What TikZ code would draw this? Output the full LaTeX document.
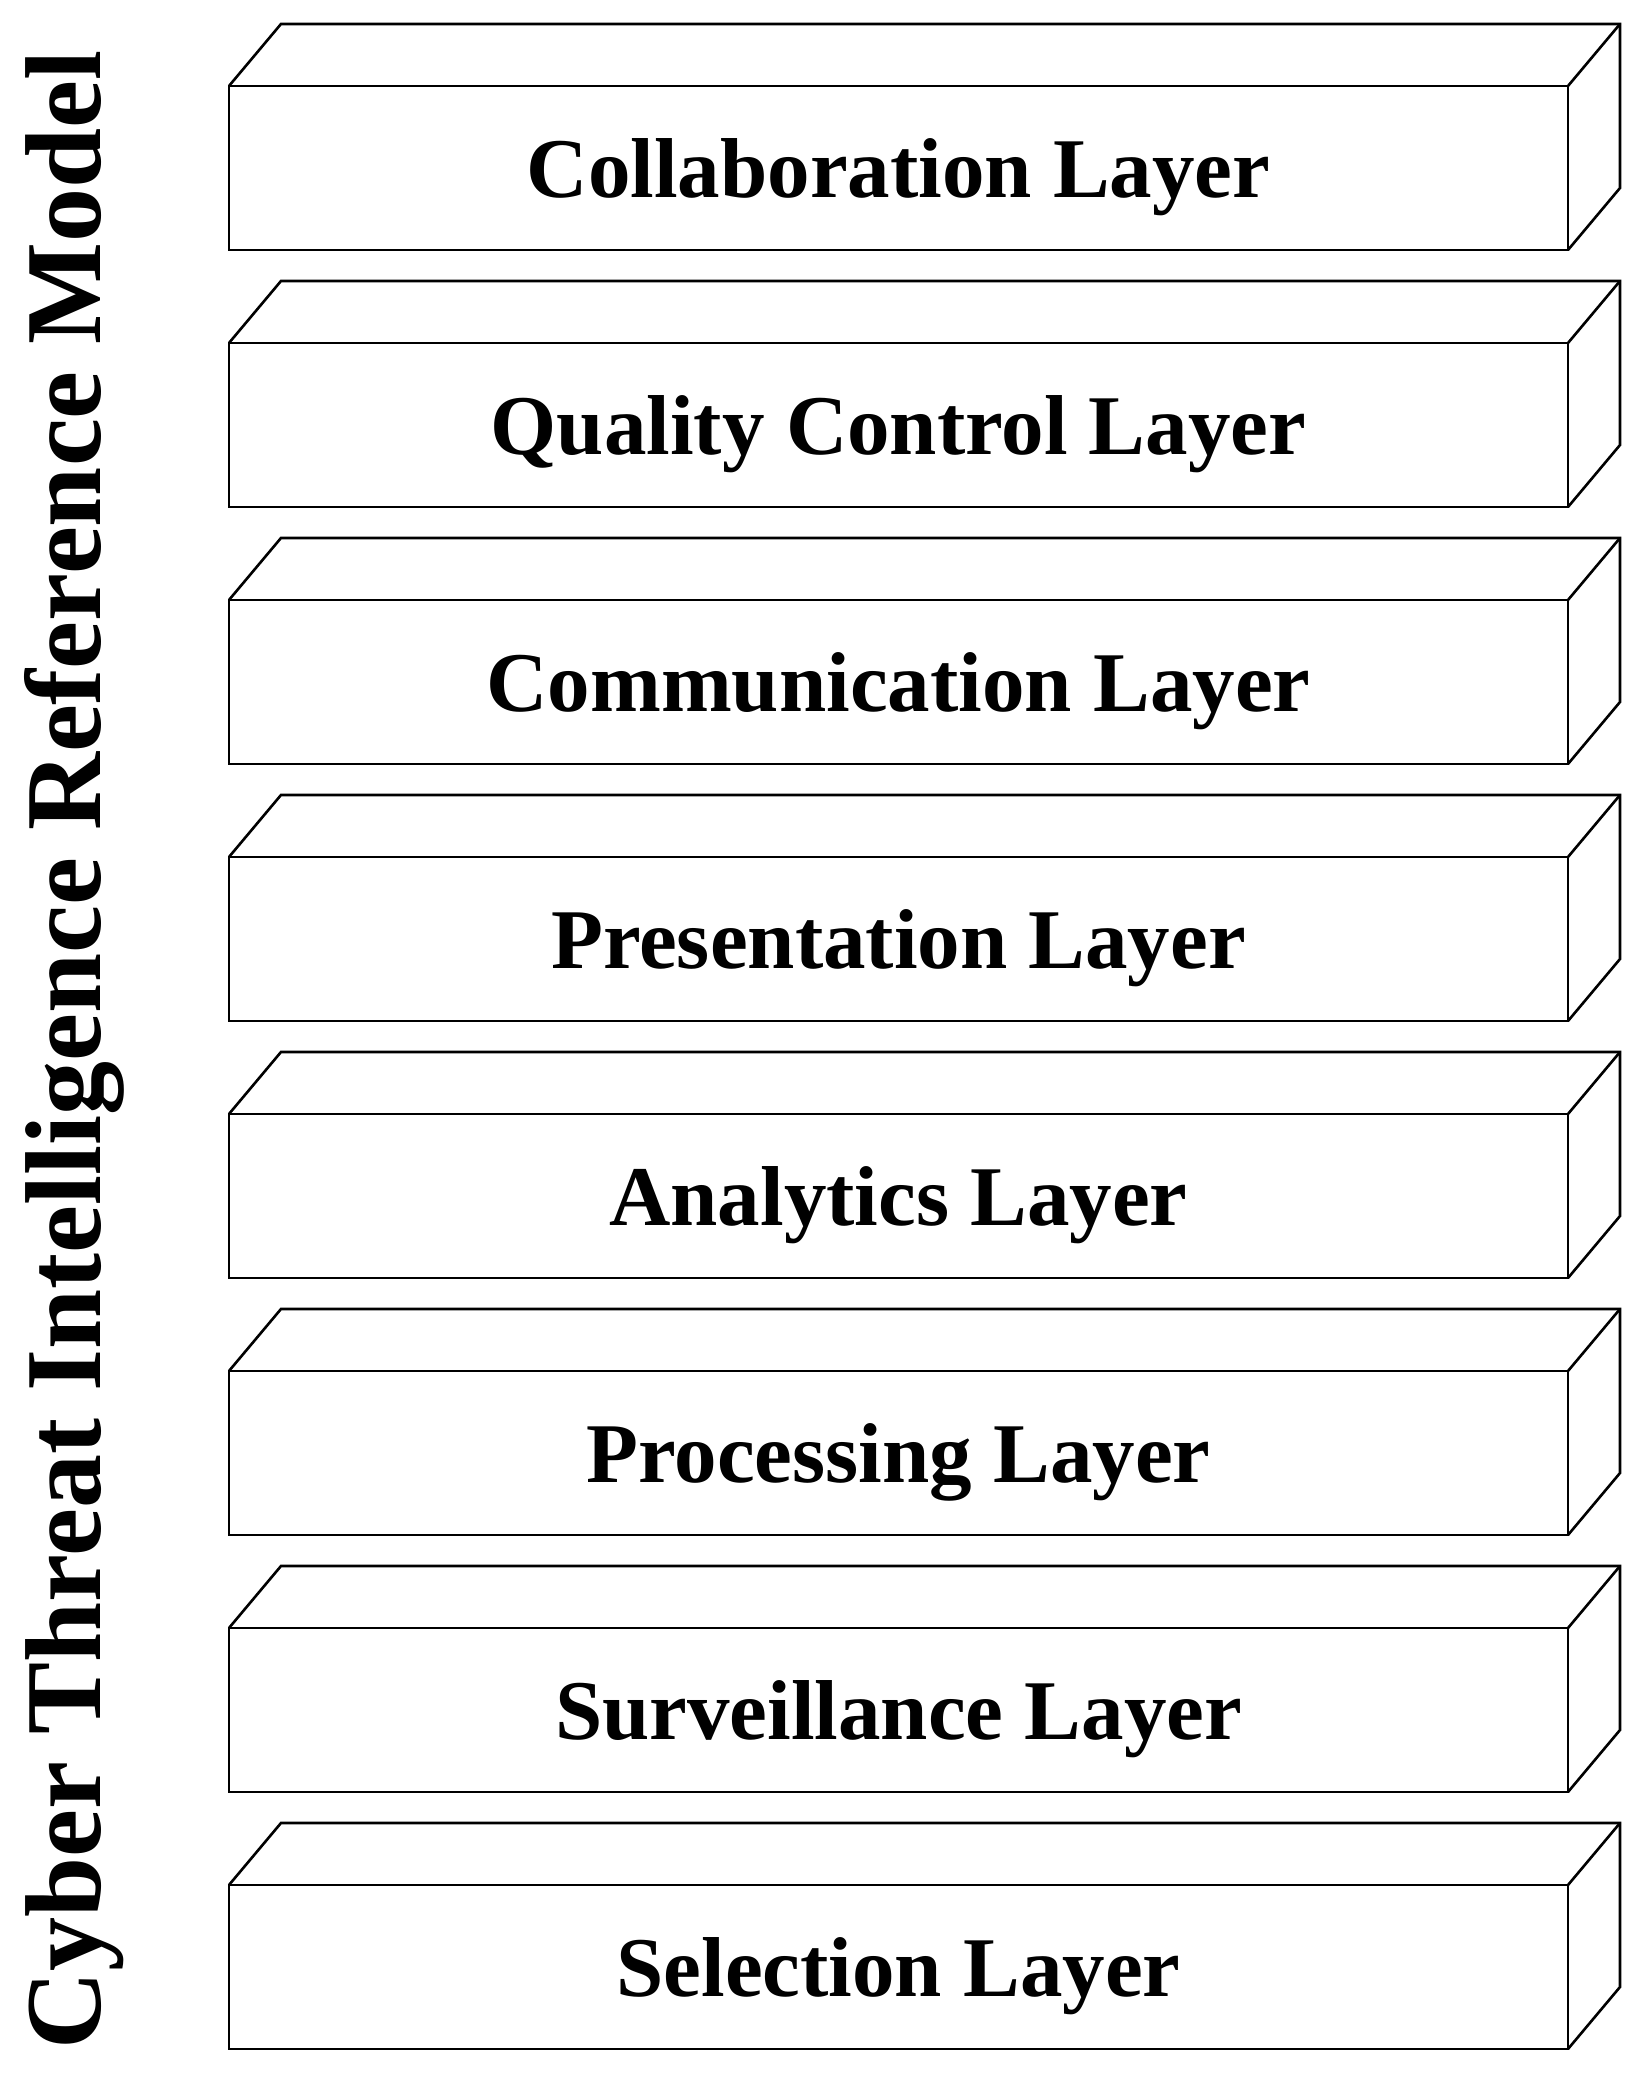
\documentclass[tikz,border=0pt]{standalone}
\usepackage{fontspec}
\setmainfont{Liberation Serif}
\usetikzlibrary{positioning}

% top and right faces of a layer box
\newcommand{\layerfaces}[1]{%
	\draw (#1.north west) -- ++(52,62) -- ([xshift=26pt,yshift=31pt]#1.north east)
		-- ([xshift=26pt,yshift=31pt]#1.south east) -- (#1.south east);
	\draw (#1.north east) -- ++(52,62);
}

\begin{document}
\begin{tikzpicture}[x=0.5pt, y=0.5pt, line width=1.3pt]
\tikzstyle{layer}=[draw, node distance=128.5pt, minimum width=669.5pt, minimum height=82pt,
	inner sep=0, outer sep=0, text depth=0pt, font=\bfseries\fontsize{42.5}{50}\selectfont]
\useasboundingbox (0,0) rectangle (1633,2077);
	\node[layer] (collab) at (898.5,1909) {Collaboration Layer};
	\node[layer, below of=collab] (quality) {Quality Control Layer};
	\node[layer, below of=quality] (comm) {Communication Layer};
	\node[layer, below of=comm] (present) {Presentation Layer};
	\node[layer, below of=present] (analytics) {Analytics Layer};
	\node[layer, below of=analytics] (process) {Processing Layer};
	\node[layer, below of=process] (surveil) {Surveillance Layer};
	\node[layer, below of=surveil] (select) {Selection Layer};

	\layerfaces{collab}
	\layerfaces{quality}
	\layerfaces{comm}
	\layerfaces{present}
	\layerfaces{analytics}
	\layerfaces{process}
	\layerfaces{surveil}
	\layerfaces{select}

	\node[rotate=90, anchor=base, inner sep=0, font=\bfseries\fontsize{54}{60}\selectfont] (title) at (100,1027) {Cyber Threat Intelligence Reference Model};
\end{tikzpicture}
\end{document}
